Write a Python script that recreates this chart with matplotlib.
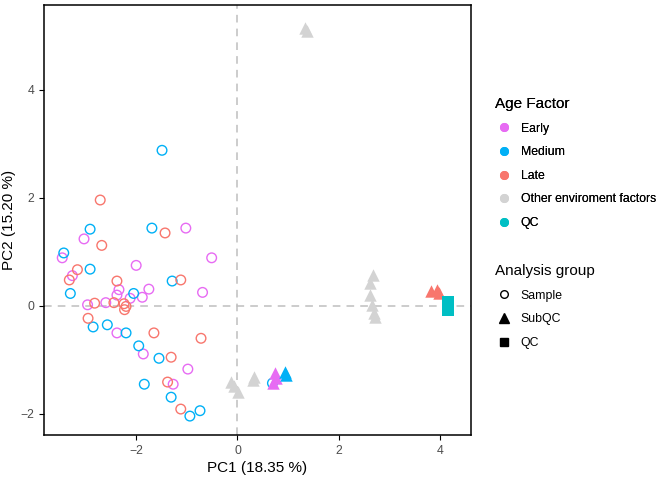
import matplotlib
matplotlib.use("Agg")
import numpy as np
from matplotlib import pyplot as plt
from matplotlib.lines import Line2D

plt.rcParams['font.family'] = ['Liberation Sans', 'DejaVu Sans']

# Samples (circles)
early_x = [-1.02, -3.03, -3.46, -0.51, -2.00, -3.26, -2.34, -2.38, -1.75, -0.69,
           -1.88, -2.12, -2.96, -2.60, -2.38, -1.86, -0.98, -1.27]
early_y = [1.44, 1.24, 0.89, 0.89, 0.75, 0.56, 0.30, 0.20, 0.31, 0.25,
           0.16, 0.14, 0.02, 0.06, -0.50, -0.89, -1.17, -1.45]
medium_x = [-1.49, -2.91, -1.69, -3.43, -2.91, -3.30, -1.29, -2.05, -2.85, -2.57,
            -2.20, -1.95, -1.55, -1.84, -1.31, -0.94, -0.74, 0.69]
medium_y = [2.88, 1.42, 1.44, 0.98, 0.68, 0.23, 0.46, 0.23, -0.39, -0.35,
            -0.50, -0.74, -0.97, -1.45, -1.69, -2.04, -1.94, -1.43]
late_x = [-2.71, -1.43, -2.68, -3.16, -3.32, -2.38, -1.12, -2.82, -2.44, -2.24,
          -2.20, -2.23, -2.95, -1.65, -0.72, -1.31, -1.38, -1.12]
late_y = [1.96, 1.35, 1.12, 0.67, 0.48, 0.46, 0.48, 0.05, 0.06, 0.04,
          -0.01, -0.07, -0.23, -0.50, -0.60, -0.95, -1.41, -1.91]

# SubQC (triangles)
other_x = [1.34, 1.37, -0.12, -0.06, 0.01, 0.33, 0.30, 2.68, 2.62, 2.62, 2.65, 2.70, 2.72]
other_y = [5.15, 5.09, -1.40, -1.49, -1.59, -1.31, -1.37, 0.57, 0.42, 0.20, 0.02, -0.14, -0.20]
early_sub_x = [0.75, 0.76, 0.71]
early_sub_y = [-1.25, -1.34, -1.43]
medium_sub_x = [0.93, 0.96]
medium_sub_y = [-1.22, -1.28]
late_sub_x = [3.83, 3.93, 3.98]
late_sub_y = [0.27, 0.30, 0.24]

# QC (squares)
qc_x = [4.16, 4.16]
qc_y = [0.08, -0.07]

c_early = '#E76BF3'
c_medium = '#00B0F6'
c_late = '#F8766D'
c_other = '#D3D3D3'
c_qc = '#00BFC4'

fig = plt.figure(figsize=(6.72, 4.8), dpi=100)
ax = fig.add_axes([44/672, 1-435/480, (471-44)/672, (435-5)/480])

ax.axhline(0, color='#BEBEBE', ls=(0, (5, 4)), lw=1.1, zorder=0)
ax.axvline(0, color='#BEBEBE', ls=(0, (5, 4)), lw=1.1, zorder=0)

ax.scatter(early_x, early_y, s=48, facecolors='none', edgecolors=c_early, linewidths=1.0)
ax.scatter(medium_x, medium_y, s=48, facecolors='none', edgecolors=c_medium, linewidths=1.0)
ax.scatter(late_x, late_y, s=48, facecolors='none', edgecolors=c_late, linewidths=1.0)

ax.scatter(other_x, other_y, s=80, marker='^', color=c_other, linewidths=0)
ax.scatter(early_sub_x, early_sub_y, s=80, marker='^', color=c_early, linewidths=0)
ax.scatter(medium_sub_x, medium_sub_y, s=80, marker='^', color=c_medium, linewidths=0)
ax.scatter(late_sub_x, late_sub_y, s=80, marker='^', color=c_late, linewidths=0)
ax.scatter(qc_x, qc_y, s=70, marker='s', color=c_qc, linewidths=0)

ax.set_xlim(-3.82, 4.61)
ax.set_ylim(-2.39, 5.57)
ax.set_xticks([-2, 0, 2, 4])
ax.set_yticks([-2, 0, 2, 4])
ax.tick_params(colors='#4D4D4D', labelsize=8.8, length=3.5, width=0.8)
ax.tick_params(color='black')
for s in ax.spines.values():
    s.set_color('black')
    s.set_linewidth(1.1)
ax.set_xlabel('PC1 (18.35 %)', fontsize=11, labelpad=3)
ax.set_ylabel('PC2 (15.20 %)', fontsize=11, labelpad=3)

age_labels = ['Early', 'Medium', 'Late', 'Other enviroment factors', 'QC']
age_colors = [c_early, c_medium, c_late, c_other, c_qc]
h1 = [Line2D([], [], ls='', marker='o', ms=5.5, color=c, mec=c) for c in age_colors]
leg1 = fig.legend(h1, age_labels, title='Age Factor', loc='upper left',
                  bbox_to_anchor=(484/672, 1-86/480), frameon=False, fontsize=8.8,
                  title_fontsize=11, labelspacing=0.95, handletextpad=0.6,
                  handlelength=1.5, alignment='left')
fig.add_artist(leg1)

grp_labels = ['Sample', 'SubQC', 'QC']
h2 = [Line2D([], [], ls='', marker='o', ms=5.5, mfc='none', mec='black', mew=1.0),
      Line2D([], [], ls='', marker='^', ms=6.5, color='black'),
      Line2D([], [], ls='', marker='s', ms=5.5, color='black')]
fig.legend(h2, grp_labels, title='Analysis group', loc='upper left',
           bbox_to_anchor=(484/672, 1-253/480), frameon=False, fontsize=8.8,
           title_fontsize=11, labelspacing=0.95, handletextpad=0.6,
           handlelength=1.5, alignment='left')

fig.savefig('out.png', dpi=100)
